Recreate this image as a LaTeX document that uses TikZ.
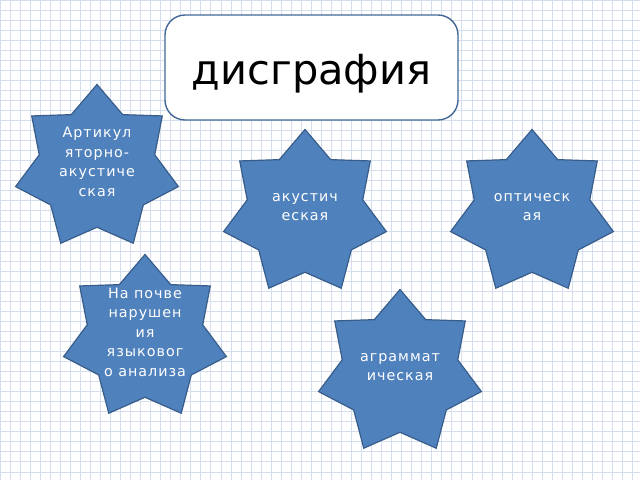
\documentclass[tikz,border=0pt]{standalone}
\usepackage{fontspec}
\usepackage{tikz}
\usetikzlibrary{shapes.geometric,positioning}

\newfontfamily\titlefont{DejaVu Sans}
\newfontfamily\starfont[LetterSpace=7]{DejaVu Sans}

\definecolor{starfill}{RGB}{79,129,189}
\definecolor{starline}{RGB}{56,93,138}
\definecolor{boxline}{RGB}{65,104,150}
\definecolor{gridcol}{RGB}{212,222,238}

\begin{document}
\begin{tikzpicture}[
    x=1pt, y=-1pt,
    gridline/.style={draw=gridcol, line width=0.7pt},
    titlebox/.style={rectangle, draw=boxline, line width=1.4pt, fill=white, rounded corners=20pt, minimum width=293pt, minimum height=105pt},
    titletext/.style={font=\titlefont\fontsize{41.5}{48}\selectfont, text=black, inner sep=0pt},
    star7/.style={star, star points=7, star point ratio=1.41, draw=starline, line width=1.2pt, fill=starfill, minimum size=167pt, inner sep=0pt},
    startext/.style={font=\starfont\fontsize{14.3}{19.5}\selectfont, text=white, align=center, inner sep=0pt}
]

% Page and grid paper
\useasboundingbox (0,0) rectangle (640,480);
\fill[white] (0,0) rectangle (640,480);
\draw[gridline, step=10.04pt] (0,0) grid (640,480);

% Title
\node[titlebox] (title) at (311.5,67.5) {};
\node[titletext, anchor=base] (titlelbl) at ([yshift=-16.5pt]title.center) {дисграфия};

% Stars
\node[star7] (artic) at (97,168) {};
\node[star7] (acoust) at (305,213) {};
\node[star7] (optic) at (532,213) {};
\node[star7] (lang) at (145,338) {};
\node[star7] (agram) at (400,373) {};

% Star labels
\node[startext] (articlbl) at ([yshift=6pt]artic.center) {Артикул\\яторно-\\акустиче\\ская};
\node[startext] (acoustlbl) at ([yshift=6pt]acoust.center) {акустич\\еская};
\node[startext] (opticlbl) at ([yshift=6pt]optic.center) {оптическ\\ая};
\node[startext] (langlbl) at ([yshift=6pt]lang.center) {На почве\\нарушен\\ия\\языковог\\о анализа};
\node[startext] (agramlbl) at ([yshift=6pt]agram.center) {аграммат\\ическая};

\end{tikzpicture}
\end{document}
